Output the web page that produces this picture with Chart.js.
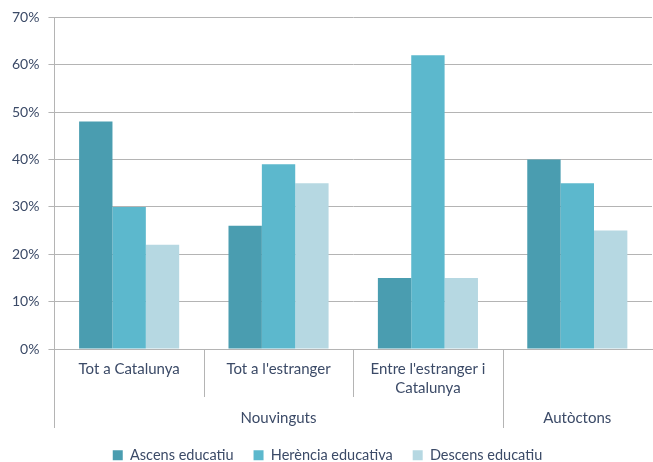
<!DOCTYPE html>
<html lang="ca">
<head>
    <meta charset="UTF-8">
    <title>Ascens, herència i descens educatiu</title>
    <script src="https://cdn.jsdelivr.net/npm/chart.js@4/dist/chart.umd.min.js"></script>
    <style>
        body { margin: 0; background: #fff; }
        .chart-box { width: 653px; height: 462px; }
    </style>
</head>
<body>
    <div class="chart-box">
        <canvas id="chart"></canvas>
    </div>

    <script>
        // categories (first row) and group labels (second row)
        const categories = ['Tot a Catalunya', "Tot a l'estranger", ["Entre l'estranger i", 'Catalunya'], ''];
        const groupLabels = ['', 'Nouvinguts', '', 'Autòctons'];
        const groupOf = ['Nouvinguts', 'Nouvinguts', 'Nouvinguts', 'Autòctons'];

        // series values (%)
        const ascens = [48, 26, 15, 40];
        const herencia = [30, 39, 62, 35];
        const descens = [22, 35, 15, 25];

        const yTicks = [0, 10, 20, 30, 40, 50, 60, 70];

        const textColor = '#3b4a67';
        const lineColor = '#b4b4b4';
        const xFont = { family: 'Lato', size: 15, lineHeight: '19px' };
        const yFont = { family: 'Lato', size: 14 };
        const legendFont = { family: 'Lato', size: 14.5 };
        const shortSep = 48; // length of separators inside a group

        // vertical separators below the axis
        const separators = {
            id: 'separators',
            afterDraw(chart) {
                const x = chart.scales.x, x2 = chart.scales.x2;
                const ctx = chart.ctx;
                ctx.save();
                ctx.strokeStyle = lineColor;
                ctx.lineWidth = 1;
                const line = (px, bottom) => {
                    ctx.beginPath();
                    ctx.moveTo(Math.round(px) + 0.5, x.top);
                    ctx.lineTo(Math.round(px) + 0.5, bottom);
                    ctx.stroke();
                };
                line(x.left, x2.bottom);
                for (let i = 0; i < categories.length - 1; i++) {
                    const px = (x.getPixelForTick(i) + x.getPixelForTick(i + 1)) / 2;
                    line(px, groupOf[i] !== groupOf[i + 1] ? x2.bottom : x.top + shortSep);
                }
                ctx.restore();
            }
        };

        new Chart(document.getElementById('chart'), {
            type: 'bar',
            data: {
                labels: categories,
                datasets: [
                    { label: 'Ascens educatiu', data: ascens, backgroundColor: '#4a9db0' },
                    { label: 'Herència educativa', data: herencia, backgroundColor: '#5cb8cd' },
                    { label: 'Descens educatiu', data: descens, backgroundColor: '#b6d8e2' }
                ]
            },
            options: {
                responsive: true,
                maintainAspectRatio: false,
                animation: false,
                layout: { padding: { top: 9, left: 3, right: 1, bottom: 0 } },
                datasets: { bar: { categoryPercentage: 0.67, barPercentage: 1 } },
                scales: {
                    x: {
                        weight: 0,
                        grid: { display: false, drawTicks: false },
                        border: { display: true, color: lineColor },
                        ticks: { color: textColor, font: xFont, padding: 11, maxRotation: 0, autoSkip: false }
                    },
                    x2: {
                        type: 'category',
                        position: 'bottom',
                        weight: 1,
                        labels: groupLabels,
                        grid: { display: false, drawTicks: false },
                        border: { display: false },
                        ticks: { color: textColor, font: xFont, padding: 0, maxRotation: 0, autoSkip: false }
                    },
                    y: {
                        min: 0,
                        max: 70,
                        afterBuildTicks(scale) { scale.ticks = yTicks.map(v => ({ value: v })); },
                        grid: { color: lineColor, tickLength: 6 },
                        border: { display: true, color: lineColor },
                        ticks: { color: textColor, font: yFont, padding: 9, callback: v => v + '%' }
                    }
                },
                plugins: {
                    legend: {
                        position: 'bottom',
                        maxHeight: 34,
                        labels: { color: textColor, font: legendFont, boxWidth: 10, boxHeight: 10, padding: 20 }
                    },
                    tooltip: { enabled: false }
                }
            },
            plugins: [separators]
        });
    </script>
</body>
</html>
